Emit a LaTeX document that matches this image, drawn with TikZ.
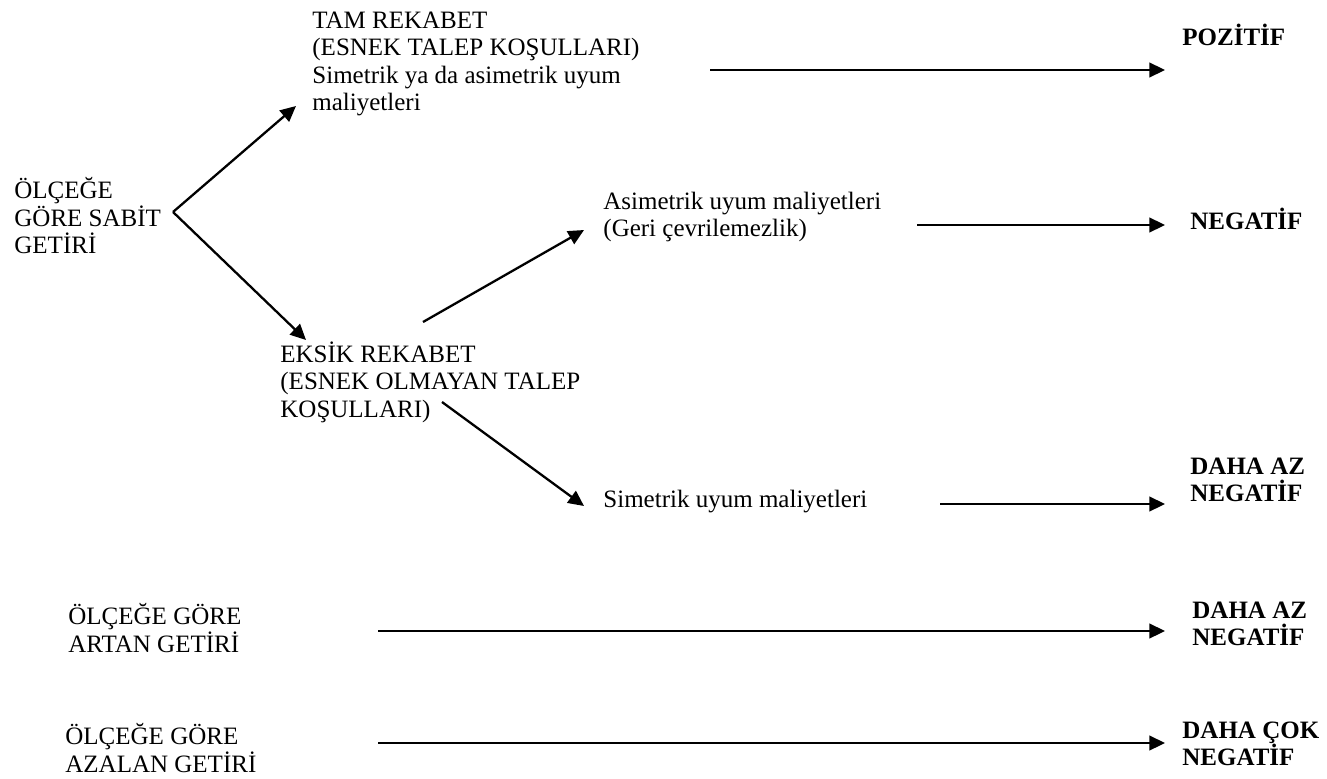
\documentclass[tikz,border=0pt]{standalone}
\usepackage{fontspec}
\setmainfont{Liberation Serif}
\usetikzlibrary{arrows.meta}

\begin{document}
\begin{tikzpicture}[
    x=0.48pt, y=-0.48pt,
    >={Triangle[length=7.5pt,width=7pt]},
    lbl/.style={
        anchor=west,
        align=left,
        inner sep=0pt,
        font=\fontsize{12}{13.2}\selectfont
    },
    res/.style={
        lbl,
        font=\fontsize{12}{13.2}\selectfont\bfseries
    },
    arr/.style={->, line width=1.1pt}
]
\useasboundingbox (0,0) rectangle (1327,778);

% left column
\node[lbl] (sabit) at (14,216) {ÖLÇEĞE\\GÖRE SABİT\\GETİRİ};
\node[lbl] (artan) at (68,628) {ÖLÇEĞE GÖRE\\ARTAN GETİRİ};
\node[lbl] (azalan) at (65,748) {ÖLÇEĞE GÖRE\\AZALAN GETİRİ};

% middle
\node[lbl] (tam) at (312,64) {TAM REKABET\\(ESNEK TALEP KOŞULLARI)\\Simetrik ya da asimetrik uyum\\maliyetleri};
\node[lbl] (eksik) at (280,382) {EKSİK REKABET\\(ESNEK OLMAYAN TALEP\\KOŞULLARI)};
\node[lbl] (asim) at (603,217) {Asimetrik uyum maliyetleri\\(Geri çevrilemezlik)};
\node[lbl] (sim) at (603,502) {Simetrik uyum maliyetleri};

% results
\node[res] (poz) at (1182,35) {POZİTİF};
\node[res] (neg) at (1190,219) {NEGATİF};
\node[res] (az1) at (1190,480) {DAHA AZ\\NEGATİF};
\node[res] (az2) at (1192,624) {DAHA AZ\\NEGATİF};
\node[res] (cok) at (1182,744) {DAHA ÇOK\\NEGATİF};

% arrow ends
\coordinate (v) at (173,212);
\coordinate (tamin) at (296,106);
\coordinate (eksin) at (306,340);
\coordinate (eksup) at (423,322);
\coordinate (asimin) at (584,230);
\coordinate (ekslow) at (442,402);
\coordinate (simin) at (584,506);
\coordinate (tamout) at (710,70);
\coordinate (pozin) at (1165,70);
\coordinate (asimout) at (917,225);
\coordinate (negin) at (1165,225);
\coordinate (simout) at (940,504);
\coordinate (az1in) at (1165,504);
\coordinate (artout) at (378,631);
\coordinate (az2in) at (1165,631);
\coordinate (azout) at (378,743);
\coordinate (cokin) at (1165,743);

\draw[arr] (v) -- (tamin);
\draw[arr] (v) -- (eksin);
\draw[arr] (eksup) -- (asimin);
\draw[arr] (ekslow) -- (simin);
\draw[arr] (tamout) -- (pozin);
\draw[arr] (asimout) -- (negin);
\draw[arr] (simout) -- (az1in);
\draw[arr] (artout) -- (az2in);
\draw[arr] (azout) -- (cokin);
\end{tikzpicture}
\end{document}
